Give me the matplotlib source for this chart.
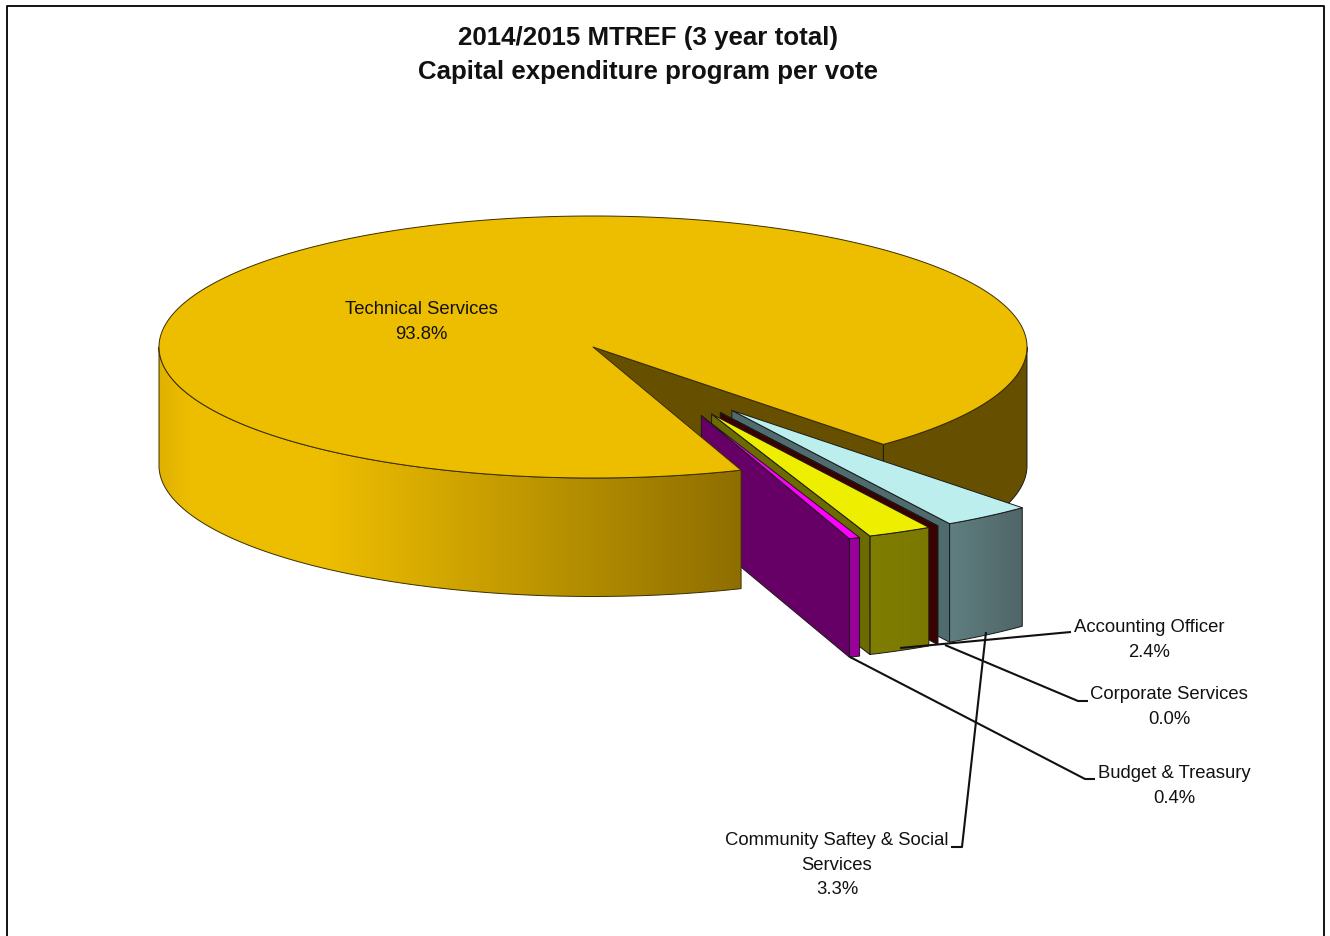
import numpy as np
import matplotlib
matplotlib.use("Agg")
import matplotlib.pyplot as plt
from matplotlib.patches import Polygon
from matplotlib.colors import LinearSegmentedColormap

# Capital expenditure share per vote (percent)
votes = ["Technical Services", "Community Saftey & Social\nServices",
         "Corporate Services", "Accounting Officer", "Budget & Treasury"]
shares = [93.8, 3.3, 0.02, 2.4, 0.4]

title = "2014/2015 MTREF (3 year total)\nCapital expenditure program per vote"

plt.rcParams["font.family"] = ["Liberation Sans", "DejaVu Sans"]

# Projection of the tilted pie, in pixel units
CX, CY, RX, RY, DEPTH = 593, 347, 434, 131, 118.5
START = 48.0          # angle where the large slice's cut begins, clockwise from east
EXPLODE = 0.58

fig = plt.figure(figsize=(13.3, 9.36), dpi=100, facecolor="white")
ax = fig.add_axes([0, 0, 1, 1])


def arc(t0, t1, ox=0.0, oy=0.0, n=200):
    t = np.radians(np.linspace(t0, t1, n))
    return np.column_stack([ox + RX * np.cos(t), oy + RY * np.sin(t)])


def face(pts, color, z, lw=0.7, edge="#1a1a1a"):
    ax.add_patch(Polygon(pts, closed=True, facecolor=color, edgecolor=edge,
                         linewidth=lw, joinstyle="round", zorder=z))


def rim(t0, t1, ox, oy, stops, z, edge="#1a1a1a"):
    """Outer cylinder band between two angles, shaded horizontally."""
    top = arc(t0, t1, ox, oy)
    bottom = top[::-1] + [0, DEPTH]
    pts = np.vstack([top, bottom])
    x0, x1 = pts[:, 0].min(), pts[:, 0].max()
    cmap = LinearSegmentedColormap.from_list("rim", stops)
    grad = np.linspace(0, 1, 512)[None, :]
    im = ax.imshow(grad, cmap=cmap, extent=[x0, x1, pts[:, 1].max(), pts[:, 1].min()],
                   aspect="auto", zorder=z, interpolation="bilinear")
    patch = Polygon(pts, closed=True, facecolor="none", edgecolor=edge,
                    linewidth=0.7, zorder=z + 0.1)
    ax.add_patch(patch)
    im.set_clip_path(patch)


total = sum(shares)
deg = [s / total * 360 for s in shares]
tech_end = START + sum(deg[1:])

# Back of the large slice: cut wall and the shaded band east of it
p = arc(START, START, CX, CY, 1)[0]
face([(CX, CY), p, p + [0, DEPTH], (CX, CY + DEPTH)], "#665000", 1)
rim(0, START, CX, CY, ["#665000", "#665000"], 1.2)

# Exploded slices, back to front
slice_styles = {
    1: dict(top="#bdeeee", wall="#4f6b6e", rim=["#5f7f80", "#506567"]),
    2: dict(top="#3b0000", wall="#3b0000", rim=["#3b0000", "#3b0000"]),
    3: dict(top="#eeee00", wall="#6b6b00", rim=["#807e00", "#7a7800"]),
    4: dict(top="#ff00ff", wall="#660066", rim=["#990099", "#990099"]),
}
angle = START
z = 3.0
for i in (1, 2, 3, 4):
    t0, t1 = angle, angle + deg[i]
    angle = t1
    mid = (t0 + t1) / 2
    # Slices fan out from nearly one direction
    pull = np.radians(60.5 + 0.52 * (mid - 61.6))
    ox = CX + EXPLODE * RX * np.cos(pull)
    oy = CY + EXPLODE * RY * np.sin(pull)
    s = slice_styles[i]
    apex = np.array([ox, oy])
    outer = arc(t0, t1, ox, oy, 30)
    rim(t0, t1, ox, oy, s["rim"], z)
    end = outer[-1]
    face([apex, end, end + [0, DEPTH], apex + [0, DEPTH]], s["wall"], z + 0.2)
    face(np.vstack([apex, outer]), s["top"], z + 0.3)
    z += 1

# Front of the large slice sits over the walls of the exploded ones
rim(tech_end, 180, CX, CY,
    [(0.0, "#dfb200"), (0.05, "#edbd00"), (0.29, "#edbd00"), (1.0, "#8e6e00")], 8,
    edge="#3a2e00")
face(np.vstack([[CX, CY], arc(tech_end, START + 360, CX, CY, 500)]), "#edbd00", 9,
     edge="#3a2e00")

# Leader lines
leaders = {
    1: [(951, 847), (962, 847), (986, 632)],
    2: [(1088, 701), (1078, 701), (945, 645)],
    3: [(1071, 632), (1060, 633), (900, 648)],
    4: [(1095, 779), (1085, 779), (850, 657)],
}
for path in leaders.values():
    xs, ys = zip(*path)
    ax.plot(xs, ys, color="#111111", lw=1.5, zorder=12, solid_capstyle="butt")

# Data labels
label_at = {0: (421, 322), 1: (837, 865), 2: (1169, 707), 3: (1149, 640), 4: (1174, 786)}
for i, name in enumerate(votes):
    shown = f"{shares[i]:.1f}%"
    ax.text(*label_at[i], f"{name}\n{shown}", ha="center", va="center", fontsize=13.3,
            color="#111111", linespacing=1.57, zorder=13)

ax.text(648, 55, title, ha="center", va="center", fontsize=18.6, fontweight="bold",
        color="#111111", linespacing=1.55, zorder=13)

# Chart frame; the lower edge runs past the bottom of the image
ax.plot([6.5, 6.5, 1324, 1324], [940, 5.5, 5.5, 940], color="black", lw=1.3, zorder=14)

ax.set_xlim(0, 1330)
ax.set_ylim(936, 0)
ax.axis("off")
fig.savefig("out.png", dpi=100, facecolor="white")
